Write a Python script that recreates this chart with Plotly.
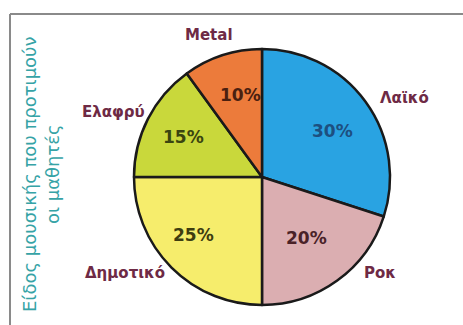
import plotly.graph_objects as go

# Music genre preferences of the students (percent)
genres = ["Λαϊκό", "Ροκ", "Δημοτικό", "Ελαφρύ", "Metal"]
shares = [30, 20, 25, 15, 10]
slice_colors = ["#29a3e2", "#dbaeb1", "#f6ed6c", "#c9d83b", "#ec7b3b"]
value_colors = ["#1d4f80", "#4a2228", "#3e3d10", "#3a4410", "#4a2010"]

W, H = 463, 325
FONT = "DejaVu Sans, Verdana, sans-serif"

def px(x, y):
    return x / W, 1 - y / H

fig = go.Figure(go.Pie(
    labels=genres,
    values=shares,
    sort=False,
    direction="clockwise",
    rotation=0,
    marker=dict(colors=slice_colors, line=dict(color="#1a1a1a", width=2.5)),
    textinfo="none",
    hoverinfo="label+percent",
    showlegend=False,
    domain=dict(x=[134 / W, 390 / W], y=[1 - 305 / H, 1 - 49 / H]),
))

# percentage labels inside the slices
value_pos = [(332, 131), (306, 238), (193, 235), (183, 137), (240, 95)]
# genre names around the pie
name_pos = [(404, 98), (380, 273), (125, 273), (113, 112), (209, 35)]

annotations = []
for g, v, c, (vx, vy), (nx, ny) in zip(genres, shares, value_colors, value_pos, name_pos):
    x, y = px(vx, vy)
    annotations.append(dict(x=x, y=y, xref="paper", yref="paper", text=f"<b>{v}%</b>",
                            xanchor="center", yanchor="middle", showarrow=False,
                            font=dict(size=17, color=c, family=FONT)))
    x, y = px(nx, ny)
    annotations.append(dict(x=x, y=y, xref="paper", yref="paper", text=f"<b>{g}</b>",
                            xanchor="center", yanchor="middle", showarrow=False,
                            font=dict(size=15, color="#6e2a45", family=FONT)))

# rotated title on the left
tx, ty = px(41, 174)
annotations.append(dict(x=tx, y=ty, xref="paper", yref="paper",
                        text="Είδος μουσικής που προτιμούν<br>οι μαθητές",
                        textangle=-90, xanchor="center", yanchor="middle", showarrow=False,
                        font=dict(size=18, color="#36a3a6", family=FONT)))

shapes = [
    dict(type="line", xref="paper", yref="paper", x0=10 / W, x1=1.02, y0=1 - 14 / H, y1=1 - 14 / H,
         line=dict(color="#8a8a8a", width=2)),
    dict(type="line", xref="paper", yref="paper", x0=10 / W, x1=10 / W, y0=1 - 14 / H, y1=-0.02,
         line=dict(color="#8a8a8a", width=2)),
]

fig.update_layout(
    width=W, height=H,
    margin=dict(l=0, r=0, t=0, b=0),
    paper_bgcolor="white",
    plot_bgcolor="white",
    annotations=annotations,
    shapes=shapes,
)

fig.write_html("out.html")
